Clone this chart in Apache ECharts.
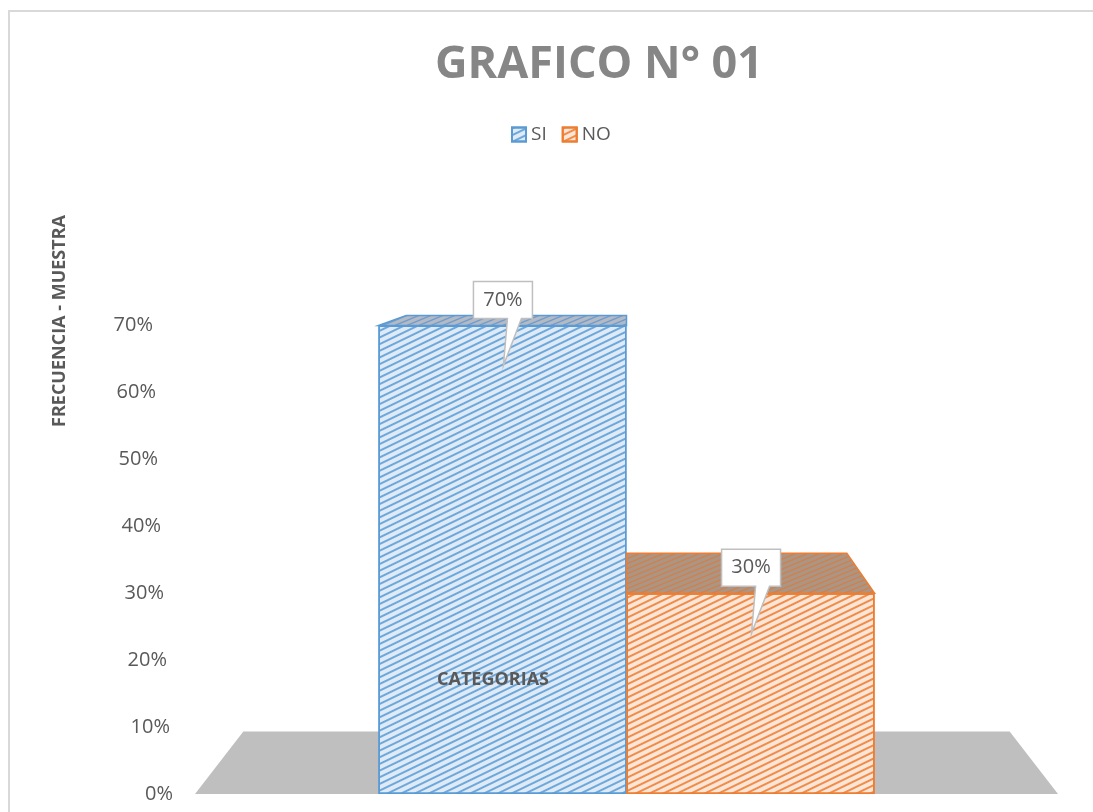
<!DOCTYPE html>
<html>
<head>
<meta charset="utf-8">
<title>GRAFICO N° 01</title>
<script src="https://cdn.jsdelivr.net/npm/echarts@6/dist/echarts.min.js"></script>
<style>
  html, body { margin: 0; padding: 0; background: #fff; }
  #chart { width: 1093px; height: 812px; }
</style>
</head>
<body>
<div id="chart"></div>
<script>
// chart data
var categories = ['CATEGORIAS'];
var seriesNames = ['SI', 'NO'];
var siValues = [0.70];
var noValues = [0.30];
var yMin = 0, yMax = 0.7, yStep = 0.1;

var catGap = 0.425;   // space between category groups
var depth = 0.112;    // fake 3d depth ratio
var edge = ['#5b9bd5', '#ed7d31'];

// small tiles for the hatched top faces
function hatch(bg, line) {
  var c = document.createElement('canvas');
  c.width = 12; c.height = 5;
  var g = c.getContext('2d');
  g.fillStyle = bg;
  g.fillRect(0, 0, 12, 5);
  g.strokeStyle = line;
  g.lineWidth = 1.3;
  g.beginPath();
  g.moveTo(-12, 10); g.lineTo(24, -5);
  g.moveTo(0, 10); g.lineTo(36, -5);
  g.moveTo(-24, 10); g.lineTo(12, -5);
  g.stroke();
  return c;
}
var topFill = [
  { image: hatch('#b3bac3', '#6f9bcf'), repeat: 'repeat' },
  { image: hatch('#ab9686', '#d0804a'), repeat: 'repeat' }
];

function perspective(cs) {
  var vp = [cs.x + cs.width / 2, cs.y - 90];
  return function (x, y) {
    return [x + depth * (vp[0] - x), y + depth * (vp[1] - y)];
  };
}

function renderFloor(params, api) {
  var cs = params.coordSys;
  var back = perspective(cs);
  var y = api.coord([0, 0])[1];
  var x0 = cs.x, x1 = cs.x + cs.width;
  return {
    type: 'polygon',
    shape: { points: [[x0, y], [x1, y], back(x1, y), back(x0, y)] },
    style: { fill: '#bfbfbf' }
  };
}

function renderTop(params, api) {
  var cs = params.coordSys;
  var back = perspective(cs);
  var idx = api.value(2);
  var v = api.value(1);
  var pt = api.coord([api.value(0), v]);
  var band = api.size([1, 0])[0];
  var barW = band * (1 - catGap) / 2;
  var x0 = pt[0] - barW + idx * barW;
  var x1 = x0 + barW;
  var y = pt[1];
  var cx = (x0 + x1) / 2;
  return {
    type: 'group',
    children: [{
      type: 'polygon',
      shape: { points: [[x0, y], [x1, y], back(x1, y), back(x0, y)] },
      style: { fill: topFill[idx], stroke: edge[idx], lineWidth: 1.5 }
    }, {
      type: 'polygon',
      shape: {
        points: [[cx - 29, y - 44], [cx + 30, y - 44], [cx + 30, y - 7], [cx + 19, y - 7],
                 [cx + 1, y + 40], [cx + 5, y - 7], [cx - 29, y - 7]]
      },
      style: { fill: '#fff', stroke: '#bfbfbf', lineWidth: 1.5 }
    }, {
      type: 'text',
      x: cx + 0.5,
      y: y - 25.5,
      style: {
        text: Math.round(v * 100) + '%',
        fill: '#595959',
        font: '20px "Open Sans"',
        align: 'center',
        verticalAlign: 'middle'
      }
    }]
  };
}

var tops = [[0, siValues[0], 0], [0, noValues[0], 1]];

var labelRich = {};
for (var i = 0; i <= 7; i++) {
  labelRich['l' + i] = { fontSize: 20, color: '#595959', padding: [0, Math.round(i * 2.9), 0, 0] };
}

var chart = echarts.init(document.getElementById('chart'));
var option = {
  animation: false,
  textStyle: { fontFamily: 'Open Sans' },
  title: {
    text: 'GRAFICO N° 01',
    left: 599,
    top: 43,
    textAlign: 'center',
    padding: 0,
    textStyle: { fontSize: 45, fontWeight: 'bold', color: '#868686', fontFamily: 'Open Sans' }
  },
  legend: {
    data: seriesNames,
    left: 511,
    top: 125,
    padding: 0,
    icon: 'rect',
    itemWidth: 14,
    itemHeight: 14,
    itemGap: 15,
    textStyle: { fontSize: 19, color: '#595959' }
  },
  grid: { left: 195, right: 35, top: 325.5, bottom: 18 },
  xAxis: {
    type: 'category',
    data: categories,
    axisLine: { show: false },
    axisTick: { show: false },
    axisLabel: { show: false }
  },
  yAxis: {
    type: 'value',
    min: yMin,
    max: yMax,
    interval: yStep,
    axisLine: { show: false },
    axisTick: { show: false },
    splitLine: { show: false },
    axisLabel: {
      margin: 22,
      formatter: function (v) {
        var k = Math.round(v * 10);
        return '{l' + k + '|' + Math.round(v * 100) + '%}';
      },
      rich: labelRich
    }
  },
  graphic: [{
    type: 'rect',
    silent: true,
    shape: { x: 9, y: 11, width: 1100, height: 900 },
    style: { fill: 'none', stroke: '#d9d9d9', lineWidth: 2 }
  }, {
    type: 'text',
    x: 60,
    y: 321,
    rotation: Math.PI / 2,
    style: {
      text: 'FRECUENCIA - MUESTRA',
      font: 'bold 18px "Open Sans"',
      fill: '#595959',
      align: 'center',
      verticalAlign: 'middle'
    }
  }, {
    type: 'text',
    x: 493,
    y: 680,
    z: 100,
    style: {
      text: 'CATEGORIAS',
      font: 'bold 18px "Open Sans"',
      fill: '#595959',
      align: 'center',
      verticalAlign: 'middle'
    }
  }],
  series: [{
    name: 'floor',
    type: 'custom',
    z: 1,
    silent: true,
    clip: false,
    renderItem: renderFloor,
    data: [[0, 0]]
  }, {
    name: 'SI',
    type: 'bar',
    z: 2,
    barGap: '0%',
    barCategoryGap: (catGap * 100) + '%',
    data: siValues,
    itemStyle: {
      color: '#deebf7',
      borderColor: edge[0],
      borderWidth: 1.5,
      decal: {
        symbol: 'rect',
        symbolSize: 1,
        dashArrayX: [1, 0],
        dashArrayY: [1.5, 3.5],
        rotation: -0.45,
        color: 'rgba(91,155,213,0.85)'
      }
    }
  }, {
    name: 'NO',
    type: 'bar',
    z: 2,
    barGap: '0%',
    barCategoryGap: (catGap * 100) + '%',
    data: noValues,
    itemStyle: {
      color: '#fbe5d6',
      borderColor: edge[1],
      borderWidth: 1.5,
      decal: {
        symbol: 'rect',
        symbolSize: 1,
        dashArrayX: [1, 0],
        dashArrayY: [1.5, 3.5],
        rotation: -0.45,
        color: 'rgba(237,125,49,0.85)'
      }
    }
  }, {
    name: 'tops',
    type: 'custom',
    z: 3,
    clip: false,
    renderItem: renderTop,
    encode: { x: 0, y: 1 },
    data: tops
  }]
};
chart.setOption(option);
</script>
</body>
</html>
